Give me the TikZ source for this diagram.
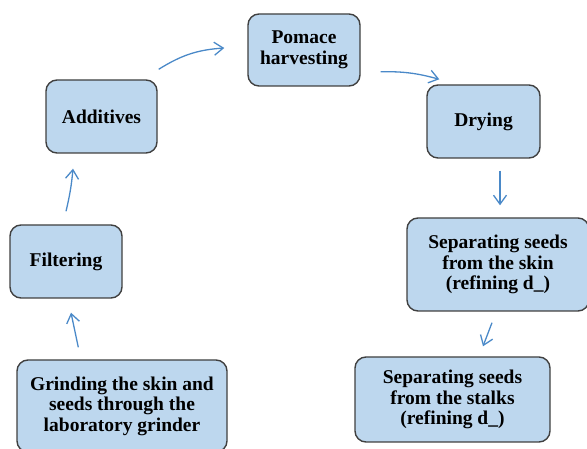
\documentclass[tikz,border=0pt]{standalone}
\usepackage{fontspec}
\setmainfont{Liberation Serif}
\usetikzlibrary{arrows.meta, positioning}
\definecolor{boxfill}{HTML}{BDD7EE}
\definecolor{boxline}{HTML}{404040}
\definecolor{flowblue}{HTML}{4A89C8}

\begin{document}
\begin{tikzpicture}[
    x=1pt, y=1pt,
    every node/.style={font=\fontsize{19.5}{20.5}\selectfont\bfseries},
    stage/.style={
        rectangle,
        rounded corners=11pt,
        draw=boxline,
        fill=boxfill,
        line width=1.4pt,
        align=center,
        inner sep=0pt
    },
    flow/.style={line width=1.3pt, -{Straight Barb[length=9pt,width=13pt]}, color=flowblue}
]
\useasboundingbox (0,0) rectangle (587,449);

\node[stage, minimum width=112pt, minimum height=72pt] (pom) at (304,399) {Pomace\\harvesting};
\node[stage, minimum width=113pt, minimum height=73pt] (dry) at (483.5,327.5) {Drying};
\node[stage, minimum width=111pt, minimum height=73pt] (add) at (101.5,332.5) {Additives};
\node[stage, minimum width=112pt, minimum height=73pt] (fil) at (66,187.5) {Filtering};
\node[stage, minimum width=182pt, minimum height=93pt] (skin) at (498,184.5) {Separating seeds\\from the skin\\(refining d\_)};
\node[stage, minimum width=195pt, minimum height=85pt] (stalk) at (452.5,49.5) {Separating seeds\\from the stalks\\(refining d\_)};
\node[stage, minimum width=210pt, minimum height=92pt] (grind) at (122,43) {Grinding the skin and\\seeds through the\\laboratory grinder};

\draw[flow] ([shift={(1,10)}]add.north east) to[bend left=14] ([shift={(-23,2)}]pom.west);
\draw[flow] ([shift={(20,15)}]pom.south east) to[bend left=8] ([shift={(13,5)}]dry.north west);
\draw[flow] ([shift={(16.5,-12)}]dry.south) -- ([shift={(2,12)}]skin.north);
\draw[flow] ([shift={(-6,-11)}]skin.south) -- ([shift={(30.5,10)}]stalk.north);
\draw[flow] ([shift={(62,12)}]grind.north west) -- ([shift={(5,-14)}]fil.south);
\draw[flow] ([shift={(0,13)}]fil.north) to[bend right=4] ([shift={(-28.5,-15)}]add.south);

\end{tikzpicture}
\end{document}
